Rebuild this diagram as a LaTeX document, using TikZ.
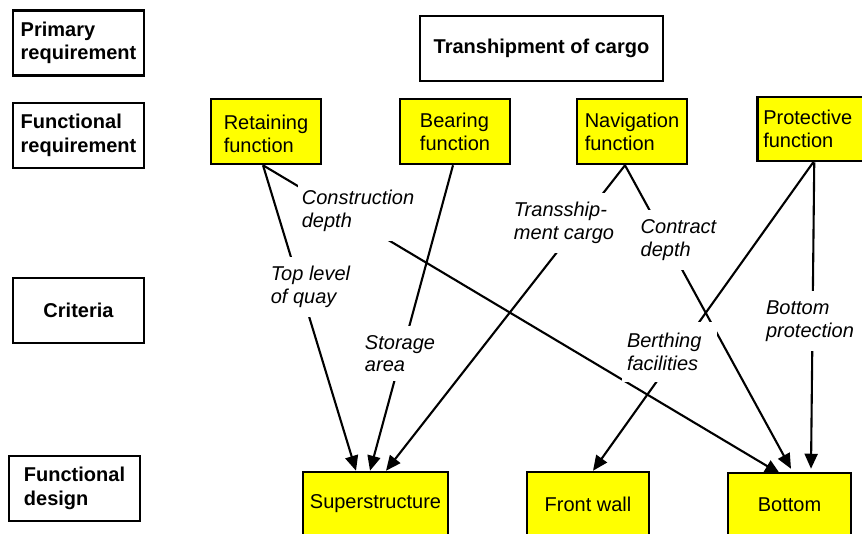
\documentclass[tikz,border=0pt]{standalone}
\usepackage{fontspec}
\setmainfont{Liberation Sans}
\usetikzlibrary{arrows.meta,calc}
\definecolor{boxyellow}{RGB}{255,255,0}
\begin{document}
\begin{tikzpicture}[x=1pt,y=-1pt,
  hdr/.style={draw, line width=2.8pt, font=\fontsize{20}{23.5}\selectfont\bfseries, align=left, minimum width=131pt, minimum height=65pt, inner sep=0pt},
  fbox/.style={draw, line width=2.5pt, fill=boxyellow, font=\fontsize{20}{23}\selectfont, align=left, minimum width=110pt, minimum height=65pt, inner sep=0pt},
  dbox/.style={draw, line width=2.5pt, fill=boxyellow, font=\fontsize{20}{23}\selectfont, minimum height=64pt, inner sep=0pt},
  lab/.style={fill=white, font=\fontsize{20}{22.5}\selectfont\itshape, align=left, inner xsep=4pt, inner ysep=9.5pt},
  conn/.style={line width=2.1pt, -{Triangle[length=15pt,width=13pt]}}
]
\useasboundingbox (0,0) rectangle (862,533);
\clip (0,0) rectangle (862,533);
% level headers
\node[hdr] (pri) at (78.5,43) {Primary\\requirement};
\node[hdr] (fr) at (78.5,135.5) {Functional\\requirement};
\node[hdr] (cri) at (78.5,310.5) {Criteria};
\node[hdr] (fd) at (74.5,488.5) {Functional\\design};
% primary requirement
\node[hdr, minimum width=243pt] (tr) at (541.5,48.5) {Transhipment of cargo};
% functional requirements
\node[fbox, text height=42pt, text depth=0pt] (ret) at (266,131.5) {Retaining\\function};
\node[fbox] (bea) at (455,131.5) {Bearing\\function};
\node[fbox] (nav) at (632,131.5) {Navigation\\function};
\node[fbox, anchor=west, text width=105pt, inner xsep=6pt, minimum width=0pt, minimum height=64pt] (pro) at (756,129) {Protective\\function};
% functional design
\node[dbox, minimum width=145pt] (sup) at (375.5,504) {Superstructure};
\node[dbox, minimum width=122pt] (fw) at (588,504) {Front wall};
\node[dbox, minimum width=123pt] (bot) at (789.5,505) {Bottom};
% connectors
\draw[conn] ($(ret.south)+(-3,0)$) -- ($(sup.north)+(-19.5,0)$);
\draw[conn] ($(bea.south)+(-2,0)$) -- ($(sup.north)+(-5.5,0)$);
\draw[conn] ($(nav.south)+(-7,0)$) -- ($(sup.north)+(10.5,0)$);
\draw[conn] ($(ret.south)+(-3,0)$) -- ($(bot.north)+(-9.5,2)$);
\draw[conn] ($(nav.south)+(-7,0)$) -- ($(bot.north)+(1.5,-3)$);
\draw[conn] ($(pro.south)+(-2.5,0)$) -- ($(fw.north)+(5,0)$);
\draw[conn] ($(pro.south)+(-1.5,0)$) -- ($(bot.north)+(21.5,-3)$);
% criteria labels
\node[lab] (l1) at (310.5,287) {Top level\\of quay};
\node[lab] (l2) at (358,211) {Construction\\depth};
\node[lab] (l3) at (400,353.5) {Storage\\area};
\node[lab] (l4) at (564,223) {Transship-\\ment cargo};
\node[lab] (l5) at (678.5,240) {Contract\\depth};
\node[lab, text width=85pt, inner xsep=5pt, inner ysep=11.5pt] (l6) at (669.5,352) {Berthing\\facilities};
\node[lab] (l7) at (810,321) {Bottom\\protection};
\end{tikzpicture}
\end{document}
